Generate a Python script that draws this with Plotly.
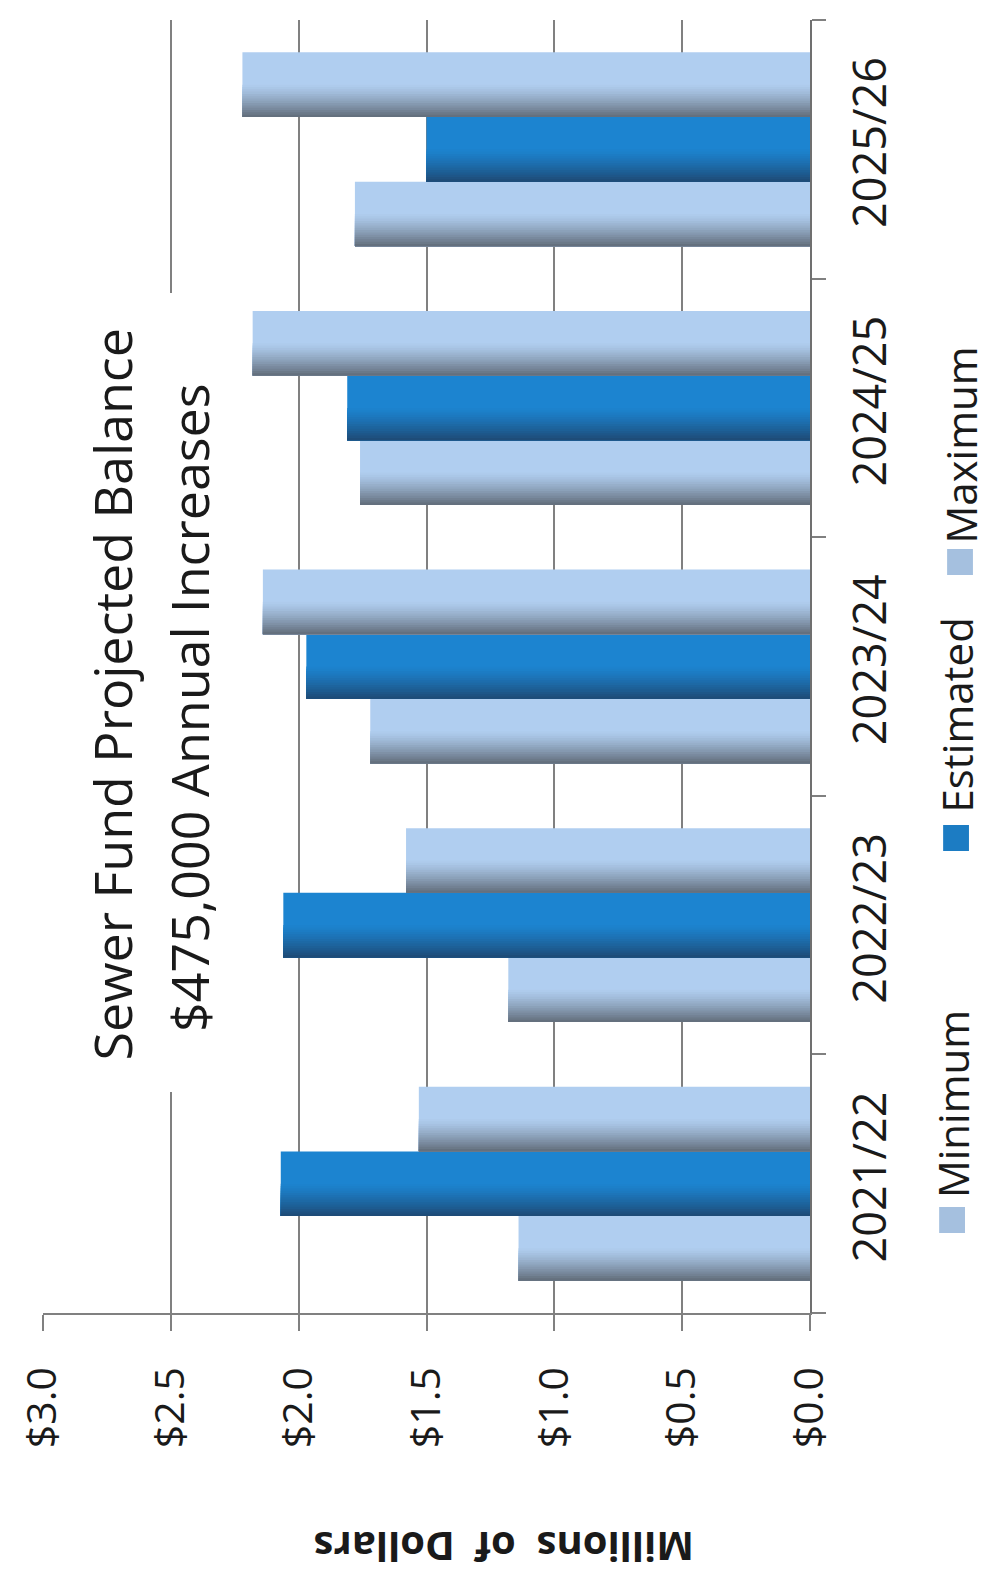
import plotly.graph_objects as go

# ---------------- data ----------------
categories = ["2021/22", "2022/23", "2023/24", "2024/25", "2025/26"]
minimum = [1.14, 1.18, 1.72, 1.76, 1.78]
estimated = [2.07, 2.06, 1.97, 1.81, 1.50]
maximum = [1.53, 1.58, 2.14, 2.18, 2.22]
series_names = ["Minimum", "Estimated", "Maximum"]
value_ticks = [0, 0.5, 1.0, 1.5, 2.0, 2.5, 3.0]
value_tick_labels = ["$0.0", "$0.5", "$1.0", "$1.5", "$2.0", "$2.5", "$3.0"]
title_lines = ["Sewer Fund Projected Balance", "$475,000 Annual Increases"]
value_axis_title = "Millions\u00a0 of\u00a0 Dollars"

# ---------------- layout geometry (pixels) ----------------
W, H = 997, 1583
L, R, T, B = 38, 187, 20, 270
PW, PH = W - L - R, H - T - B


def px(xp):
    return (xp - L) / PW


def py(yp):
    return 1 - (yp - T) / PH


FONT = "Open Sans, Lato, DejaVu Sans, sans-serif"

light = dict(top=(176, 206, 240), dark=(100, 112, 126))
blue = dict(top=(28, 132, 208), dark=(30, 76, 120))
series_styles = [light, blue, light]
series_values = [minimum, estimated, maximum]

bar_w = 0.25
offsets = [-0.375, -0.125, 0.125]


def mix(c1, c2, t):
    return "rgb(%d,%d,%d)" % tuple(round(a + (b - a) * t) for a, b in zip(c1, c2))


fig = go.Figure()

# smooth-ish gradient: strips measured from the lower edge of each bar
n_strips = 14
strips = [(1.0, 0.0)]
for k in range(n_strips):
    frac = 0.5 * (1 - k / n_strips)
    t = ((k + 1) / n_strips) ** 1.3
    strips.append((frac, t))

for name, vals, st, off in zip(series_names, series_values, series_styles, offsets):
    for frac, t in strips:
        fig.add_trace(go.Bar(
            y=categories, x=vals, orientation="h", name=name,
            width=bar_w * frac, offset=off,
            marker=dict(color=mix(st["top"], st["dark"], t), line=dict(width=0)),
            showlegend=False, hoverinfo="x+name",
        ))

fig.update_layout(
    width=W, height=H,
    margin=dict(l=L, r=R, t=T, b=B),
    paper_bgcolor="white", plot_bgcolor="white",
    barmode="overlay",
    showlegend=False,
    font=dict(family=FONT, color="#1a1a1a"),
)

fig.update_xaxes(
    range=[3.0, 0.0],
    tickvals=value_ticks, ticktext=value_tick_labels,
    tickangle=-90, tickfont=dict(size=41, family=FONT, color="#1a1a1a"),
    showgrid=True, gridcolor="#808080", gridwidth=1.5,
    showline=True, linecolor="#808080", linewidth=1.5,
    ticks="outside", ticklen=16, tickcolor="#808080", tickwidth=1.5,
    ticklabelstandoff=20,
    zeroline=False,
)

fig.update_yaxes(
    type="category", categoryorder="array", categoryarray=categories,
    side="right",
    tickangle=-90, tickfont=dict(size=45, family=FONT, color="#1a1a1a"),
    showgrid=False,
    showline=True, linecolor="#707070", linewidth=1.5,
    ticks="outside", tickson="boundaries", ticklen=14, tickcolor="#808080", tickwidth=1.5,
    ticklabelstandoff=20,
    range=[-0.5, len(categories) - 0.5],
)

# white box behind the title (hides the $2.5 gridline)
fig.add_shape(type="rect", xref="paper", yref="paper",
              x0=px(62), x1=px(234), y0=py(1092), y1=py(293),
              fillcolor="white", line=dict(width=0), layer="above")

# title (two rotated lines)
fig.add_annotation(text=title_lines[0], textangle=-90, xref="paper", yref="paper",
                   x=px(106), y=py(694), xanchor="center", yanchor="middle",
                   showarrow=False, font=dict(size=52, family=FONT, color="#1a1a1a"))
fig.add_annotation(text=title_lines[1], textangle=-90, xref="paper", yref="paper",
                   x=px(184), y=py(708), xanchor="center", yanchor="middle",
                   showarrow=False, font=dict(size=52, family=FONT, color="#1a1a1a"))

# value axis title (upside down)
fig.add_annotation(text="<b>" + value_axis_title + "</b>", textangle=180,
                   xref="paper", yref="paper", x=px(502), y=py(1548),
                   xanchor="center", yanchor="middle", showarrow=False,
                   font=dict(size=40, family=FONT, color="#1a1a1a"))

# legend (rotated) - squares + labels
legend_colors = [mix(light["top"], light["dark"], 0.15), mix(blue["top"], blue["dark"], 0.15),
                 mix(light["top"], light["dark"], 0.15)]
legend_sq_y = [1220, 838, 562]
legend_txt_y = [1200, 815, 546]
legend_x = [953, 957, 961]
for name, col, sy, ty, lx in zip(series_names, legend_colors, legend_sq_y, legend_txt_y, legend_x):
    fig.add_shape(type="rect", xref="paper", yref="paper",
                  x0=px(lx - 13), x1=px(lx + 13), y0=py(sy + 13), y1=py(sy - 13),
                  fillcolor=col, line=dict(width=0))
    fig.add_annotation(text=name, textangle=-90, xref="paper", yref="paper",
                       x=px(lx), y=py(ty), xanchor="center", yanchor="bottom",
                       showarrow=False, font=dict(size=42, family=FONT, color="#1a1a1a"))

fig.write_html("out.html")
